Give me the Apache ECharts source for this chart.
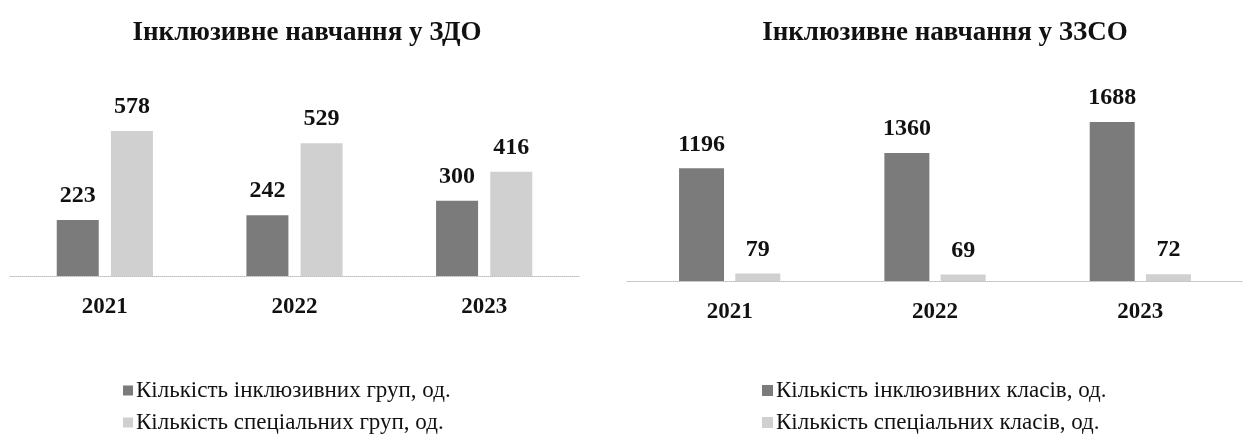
<!DOCTYPE html>
<html>
<head>
<meta charset="utf-8">
<script src="https://cdn.jsdelivr.net/npm/echarts@6/dist/echarts.min.js"></script>
<style>html,body{margin:0;padding:0;background:#fff}#c{width:1243px;height:447px}</style>
</head>
<body>
<div id="c"></div>
<script>
const years = ['2021', '2022', '2023'];
const zdoInclusive = [223, 242, 300];
const zdoSpecial = [578, 529, 416];
const zzsoInclusive = [1196, 1360, 1688];
const zzsoSpecial = [79, 69, 72];
const titles = ['Інклюзивне навчання у ЗДО', 'Інклюзивне навчання у ЗЗСО'];
const names = ['Кількість інклюзивних груп, од.', 'Кількість спеціальних груп, од.',
               'Кількість інклюзивних класів, од.', 'Кількість спеціальних класів, од.'];

const FONT = '"Liberation Serif", "Times New Roman", serif';
const DARK = '#7b7b7b', LIGHT = '#d0d0d0';
const chart = echarts.init(document.getElementById('c'));

function bar(name, data, xi, color, width, gap) {
  return {
    name, type: 'bar', data, xAxisIndex: xi, yAxisIndex: xi,
    barWidth: width, barGap: gap,
    itemStyle: { color },
    label: { show: true, position: 'top', distance: 12, fontFamily: FONT,
             fontWeight: 'bold', fontSize: 24, color: '#111' }
  };
}
const xAx = (gi) => ({
  type: 'category', data: years, gridIndex: gi,
  axisTick: { show: false },
  axisLine: { lineStyle: { color: '#bdbdbd', type: 'dotted', width: 1 } },
  axisLabel: { fontFamily: FONT, fontWeight: 'bold', fontSize: 23, color: '#111', margin: 20 }
});
const yAx = (gi, max) => ({ type: 'value', gridIndex: gi, min: 0, max, show: false, splitLine: { show: false } });
const legendText = { fontFamily: FONT, fontSize: 23, color: '#111', padding: [0, 0, 0, -2] };

chart.setOption({
  animation: false,
  title: [
    { text: titles[0], left: 302, top: 15, textAlign: 'center',
      textStyle: { fontFamily: FONT, fontWeight: 'bold', fontSize: 27, color: '#111' } },
    { text: titles[1], left: 940, top: 15, textAlign: 'center',
      textStyle: { fontFamily: FONT, fontWeight: 'bold', fontSize: 27, color: '#111' } }
  ],
  grid: [
    { left: 10, width: 569, top: 100.4, height: 175.6 },
    { left: 627, width: 620, top: 92.6, height: 188.4 }
  ],
  xAxis: [xAx(0), xAx(1)],
  yAxis: [yAx(0, 700), yAx(1, 2000)],
  legend: [
    { data: [names[0], names[1]], orient: 'vertical', left: 118, top: 374, itemGap: 9,
      itemWidth: 10, itemHeight: 10, icon: 'rect', textStyle: legendText },
    { data: [names[2], names[3]], orient: 'vertical', left: 757, top: 374, itemGap: 9,
      itemWidth: 11, itemHeight: 11, icon: 'rect', textStyle: legendText }
  ],
  series: [
    bar(names[0], zdoInclusive, 0, DARK, 42, '29%'),
    bar(names[1], zdoSpecial, 0, LIGHT, 42, '29%'),
    bar(names[2], zzsoInclusive, 1, DARK, 45, '25%'),
    bar(names[3], zzsoSpecial, 1, LIGHT, 45, '25%')
  ]
});
</script>
</body>
</html>
